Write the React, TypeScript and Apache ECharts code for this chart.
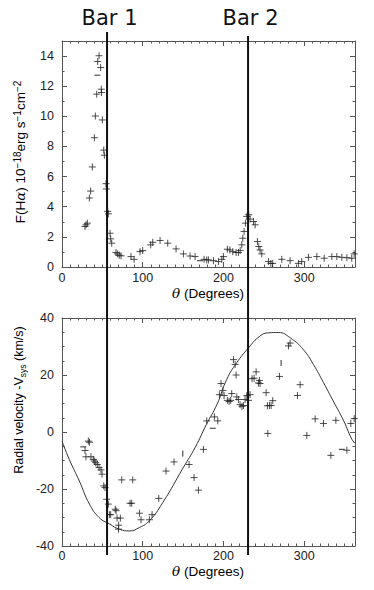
import React, { useEffect, useRef } from "react";
import * as echarts from "echarts";

// ---- axis ticks ----
const xTickLabels = [0, 100, 200, 300];
const xMinorTicks = [0, 10, 20, 30, 40, 50, 60, 70, 80, 90, 100, 110, 120, 130, 140, 150, 160, 170, 180, 190, 200, 210, 220, 230, 240, 250, 260, 270, 280, 290, 300, 310, 320, 330, 340, 350, 360];
const fluxTickLabels = [0, 2, 4, 6, 8, 10, 12, 14];
const fluxMinorTicks = [0, 1, 2, 3, 4, 5, 6, 7, 8, 9, 10, 11, 12, 13, 14, 15];
const velTickLabels = [-40, -20, 0, 20, 40];

// ---- bar positions ----
const barNames = ["Bar 1", "Bar 2"];
const barTheta = [55.8, 230.5];

// ---- top panel: F(Halpha) ----
const fluxTheta = [28.5, 29.8, 31.4, 33.9, 35.5, 37.6, 40.1, 41.3, 43, 44.2, 45.9, 47.9, 48.7, 49, 50, 51.7, 52.5, 54.5, 55, 56.6, 57.4, 59.5, 60.3, 61.6, 66.9, 68.9, 71, 73.1, 85.5, 89.3, 96.7, 100, 109.9, 112.4, 121.5, 131, 141.3, 150.4, 158.7, 164.9, 176, 179.3, 181.4, 187.6, 193.8, 198, 200, 204.9, 208, 211.6, 215.7, 218.6, 220.7, 222.7, 224, 225.6, 227.3, 229, 231.4, 233, 237.2, 239.3, 242.1, 243.8, 245.4, 247.5, 255.8, 258.7, 261, 272.3, 282.6, 292.9, 297, 305.3, 315.7, 324.8, 334.3, 340.5, 346.7, 352.9, 359, 362];
const fluxValue = [2.69, 2.8, 2.91, 4.58, 5.04, 6.64, 8.58, 10.02, 11.47, 13.64, 14.02, 13.24, 11.8, 11.58, 9.76, 7.76, 7.42, 5.53, 5.18, 3.69, 3.53, 2.24, 1.87, 1.58, 0.96, 0.87, 0.78, 0.74, 0.69, 0.51, 1.02, 1.09, 1.47, 1.64, 1.76, 1.58, 1.2, 0.87, 0.73, 0.69, 0.51, 0.47, 0.47, 0.42, 0.36, 0.51, 0.69, 1.18, 1.13, 1.02, 0.96, 0.96, 1.09, 1.47, 1.91, 2.36, 2.91, 3.36, 3.47, 3.18, 3.02, 2.8, 1.69, 1.36, 1.13, 0.87, 0.36, 0.24, 0.24, 0.51, 0.42, 0.24, 0.36, 0.64, 0.69, 0.58, 0.69, 0.69, 0.64, 0.62, 0.58, 0.87];
const fluxDashTheta = [43.8, 171];
const fluxDashValue = [12.73, 0.42];

// ---- bottom panel: radial velocity ----
const velTheta = [28.5, 29.7, 32.6, 34, 35.9, 38.8, 40.1, 41.8, 43.8, 45.9, 48.3, 49.6, 51.7, 53.3, 55.4, 57.4, 58.7, 60.3, 66, 67, 68.2, 72.3, 70.2, 70, 74, 84.3, 86.3, 87.6, 95.9, 97.9, 108.3, 111.6, 119.9, 128.9, 138.8, 157.4, 163.6, 169, 175.2, 179.3, 188.8, 193, 195, 197, 199.3, 200.8, 204.9, 207, 209, 210.3, 212.4, 214.5, 215.7, 216.5, 218.6, 220.6, 223, 224.8, 226.8, 229, 231, 233, 235.5, 238, 240.5, 243.4, 244.6, 245.4, 252.9, 254.5, 255, 257, 259.1, 261.1, 269.4, 280.6, 282.6, 291.7, 295, 303.3, 313.6, 324, 333.1, 339.3, 352.9, 357.8, 362];
const velValue = [-6.5, -8.7, -3.2, -3.6, -8.7, -9.6, -10.2, -10.8, -11.4, -12.5, -13.3, -14.8, -18.9, -19.5, -23.6, -25.3, -29, -29, -27.1, -27.6, -30.2, -30.2, -32.7, -34.1, -16.8, -25, -25, -16.8, -28.5, -30.8, -30.8, -29, -23.3, -13.7, -10.5, -11.4, -16, -20.4, -6.1, 3.9, 5.3, 3.9, 13.1, 17, 14.6, 12.8, 11.1, 10.7, 11.1, 13.5, 25.4, 23.7, 20, 12.3, 11.4, 9.6, 9, 9.3, 11.4, 12.8, 11.1, 13.1, 18.7, 18.9, 21.1, 17.2, 18.1, 17, 13.8, 9.2, -0.5, 9.3, 9.3, 11, 19.5, 30.2, 31.2, 12.8, 16.6, -1.2, 4.6, 3, -8.2, 4.1, -6.4, 3, 4.7];
const velDashTheta = [26.4, 186.8, 346.7];
const velDashValue = [-5.2, 1.3, -6.1];
const velBarTheta = [149.6, 271.5];
const velBarValue = [-7.5, 24.2];

// ---- model curve ----
const curveTheta = [0, 9, 21.5, 34, 46, 59, 71, 83.5, 96, 108, 125, 150, 165, 179, 192, 204, 216.5, 231, 245, 256, 268, 283, 299, 311.5, 324, 336, 349, 359, 363];
const curveValue = [-3.2, -9.6, -17.2, -25.3, -30, -32.3, -34.1, -34.7, -33.5, -31.2, -24.7, -12.6, -5.4, 2.7, 9.7, 18.4, 24.3, 29.5, 33.6, 34.8, 34.9, 33, 28.9, 23.7, 17.3, 10.9, 3.9, -2.5, -4];

const X_MAX = 363;
const AXIS_COLOR = "#555";
const MARK_COLOR = "#222";
const LABEL_FONT = "'Liberation Sans', Arial, sans-serif";

const zip = (a: number[], b: number[]) => a.map((v, i) => [v, b[i]]);
const plusSymbol = "path://M4,0V8M0,4H8";

const labelStyle = (margin: number, values: number[]) => ({
  show: true,
  customValues: values,
  margin,
  fontSize: 12.5,
  lineHeight: 12,
  color: "#222",
  fontFamily: LABEL_FONT,
});

function mainX(gridIndex: number, position: "bottom" | "top", labelMargin: number | null) {
  return {
    type: "value",
    gridIndex,
    position,
    min: 0,
    max: X_MAX,
    axisLine: { show: true, onZero: false, lineStyle: { color: AXIS_COLOR, width: 1 } },
    axisTick: { show: true, inside: true, length: 5, customValues: xTickLabels, lineStyle: { color: AXIS_COLOR } },
    axisLabel: labelMargin === null ? { show: false } : labelStyle(labelMargin, xTickLabels),
    splitLine: { show: false },
  };
}

function minorX(gridIndex: number, position: "bottom" | "top") {
  return {
    type: "value",
    gridIndex,
    position,
    min: 0,
    max: X_MAX,
    axisLine: { show: false, onZero: false },
    axisTick: { show: true, inside: true, length: 2.5, customValues: xMinorTicks, lineStyle: { color: AXIS_COLOR } },
    axisLabel: { show: false },
    splitLine: { show: false },
  };
}

function fluxY(gridIndex: number, position: "left" | "right", major: boolean, withLabels: boolean) {
  return {
    type: "value",
    gridIndex,
    position,
    min: 0,
    max: 15,
    axisLine: { show: major, onZero: false, lineStyle: { color: AXIS_COLOR, width: 1 } },
    axisTick: {
      show: true,
      inside: true,
      length: major ? 5 : 2.5,
      customValues: major ? fluxTickLabels : fluxMinorTicks,
      lineStyle: { color: AXIS_COLOR },
    },
    axisLabel: withLabels ? labelStyle(8, fluxTickLabels) : { show: false },
    splitLine: { show: false },
  };
}

function velY(gridIndex: number, position: "left" | "right", withLabels: boolean) {
  return {
    type: "value",
    gridIndex,
    position,
    min: -40,
    max: 40,
    interval: 20,
    axisLine: { show: true, onZero: false, lineStyle: { color: AXIS_COLOR, width: 1 } },
    axisTick: { show: true, inside: true, length: 5, lineStyle: { color: AXIS_COLOR } },
    minorTick: { show: true, splitNumber: 4, length: 2.5, lineStyle: { color: AXIS_COLOR } },
    axisLabel: withLabels ? labelStyle(8, velTickLabels) : { show: false },
    splitLine: { show: false },
  };
}

const plusStyle = { color: "rgba(0,0,0,0)", borderColor: MARK_COLOR, borderWidth: 1 };

export default function App() {
  const ref = useRef<HTMLDivElement>(null);

  useEffect(() => {
    if (!ref.current) return;
    const chart = echarts.init(ref.current, null, { renderer: "svg" });

    const topGrid = { left: 62, right: 19, top: 41, height: 226 };
    const botGrid = { left: 62, right: 19, top: 318, height: 228 };

    const option: any = {
      animation: false,
      backgroundColor: "#fff",
      grid: [topGrid, botGrid, { ...topGrid }, { ...botGrid }],
      xAxis: [
        mainX(0, "bottom", 5),
        mainX(0, "top", null),
        mainX(1, "bottom", 4),
        mainX(1, "top", null),
        minorX(2, "bottom"),
        minorX(2, "top"),
        minorX(3, "bottom"),
        minorX(3, "top"),
      ],
      yAxis: [
        fluxY(0, "left", true, true),
        fluxY(0, "right", true, false),
        velY(1, "left", true),
        velY(1, "right", false),
        fluxY(2, "left", false, false),
        fluxY(2, "right", false, false),
        {
          type: "value",
          gridIndex: 3,
          min: -40,
          max: 40,
          show: false,
        },
      ],
      series: [
        {
          type: "scatter",
          xAxisIndex: 0,
          yAxisIndex: 0,
          symbol: plusSymbol,
          symbolSize: 7,
          itemStyle: plusStyle,
          data: zip(fluxTheta, fluxValue),
        },
        {
          type: "scatter",
          xAxisIndex: 0,
          yAxisIndex: 0,
          symbol: "rect",
          symbolSize: [6, 1.2],
          itemStyle: { color: MARK_COLOR },
          data: zip(fluxDashTheta, fluxDashValue),
        },
        {
          type: "line",
          xAxisIndex: 2,
          yAxisIndex: 2,
          smooth: true,
          symbol: "none",
          lineStyle: { color: "#333", width: 1 },
          data: zip(curveTheta, curveValue),
        },
        {
          type: "scatter",
          xAxisIndex: 2,
          yAxisIndex: 2,
          symbol: plusSymbol,
          symbolSize: 7,
          itemStyle: plusStyle,
          data: zip(velTheta, velValue),
        },
        {
          type: "scatter",
          xAxisIndex: 2,
          yAxisIndex: 2,
          symbol: "rect",
          symbolSize: [6, 1.2],
          itemStyle: { color: MARK_COLOR },
          data: zip(velDashTheta, velDashValue),
        },
        {
          type: "scatter",
          xAxisIndex: 2,
          yAxisIndex: 2,
          symbol: "rect",
          symbolSize: [1.2, 6],
          itemStyle: { color: MARK_COLOR },
          data: zip(velBarTheta, velBarValue),
        },
      ],
    };
    chart.setOption(option);

    const barX = barTheta.map((t) => chart.convertToPixel({ xAxisIndex: 0 } as any, t) as number);

    const mkRich = (size: number, supSize: number) => ({
      n: { fontSize: size, fontFamily: LABEL_FONT, color: "#222", lineHeight: 16 },
      i: { fontSize: size, fontFamily: "'DejaVu Serif', serif", fontStyle: "italic", color: "#222", lineHeight: 16 },
      s: { fontSize: supSize, fontFamily: LABEL_FONT, color: "#222", lineHeight: supSize, verticalAlign: "top" },
      b: { fontSize: supSize, fontFamily: LABEL_FONT, color: "#222", lineHeight: supSize, verticalAlign: "bottom" },
    });

    const xName = (y: number) => ({
      type: "text",
      x: 208,
      y,
      style: {
        text: "{i|θ}{n| (Degrees)}",
        rich: {
          n: { fontSize: 13.5, fontFamily: LABEL_FONT, color: "#222", lineHeight: 13 },
          i: { fontSize: 13.5, fontFamily: "'DejaVu Serif', serif", fontStyle: "italic", color: "#222", lineHeight: 13 },
        },
        align: "center",
        verticalAlign: "middle",
      },
    });

    chart.setOption({
      graphic: [
        ...barX.map((x, k) => ({
          type: "line",
          z: 100,
          shape: { x1: x, y1: k === 0 ? 32 : 36, x2: x, y2: 555 },
          style: { stroke: "#111", lineWidth: 2 },
        })),
        ...barX.map((x, k) => ({
          type: "text",
          x: x + 2.5,
          y: 17.5,
          style: {
            text: barNames[k],
            fontSize: 21,
            fontFamily: "'DejaVu Sans', sans-serif",
            fill: "#111",
            align: "center",
            verticalAlign: "middle",
          },
        })),
        xName(293),
        xName(571),
        {
          type: "text",
          x: 20,
          y: 152,
          rotation: Math.PI / 2,
          style: {
            text: "{n|F(H}{i|α}{n|) 10}{s|−18}{n|erg s}{s|−1}{n|cm}{s|−2}",
            rich: mkRich(13.5, 10),
            align: "center",
            verticalAlign: "middle",
          },
        },
        {
          type: "text",
          x: 19,
          y: 400,
          rotation: Math.PI / 2,
          style: {
            text: "{n|Radial velocity -V}{b|sys}{n| (km/s)}",
            rich: mkRich(12.5, 8.5),
            align: "center",
            verticalAlign: "middle",
          },
        },
      ],
    });

    return () => chart.dispose();
  }, []);

  return (
    <div
      ref={ref}
      style={{ position: "fixed", left: 0, top: 0, width: 374, height: 590, background: "#fff" }}
    />
  );
}
